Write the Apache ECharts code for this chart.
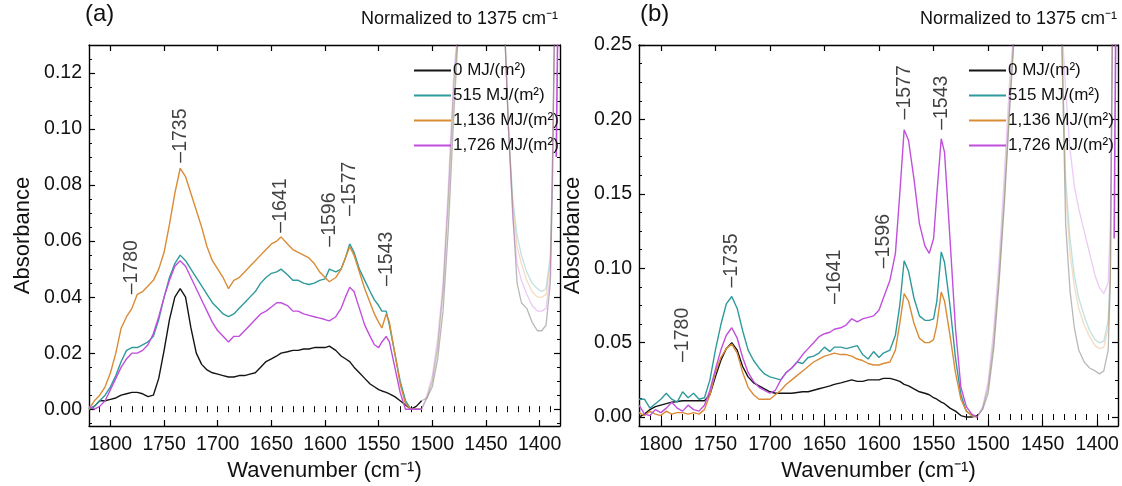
<!DOCTYPE html>
<html>
<head>
<meta charset="utf-8">
<script src="https://cdn.jsdelivr.net/npm/echarts@6/dist/echarts.min.js"></script>
<style>
  html, body { margin: 0; padding: 0; background: #fff; }
  #chart { width: 1122px; height: 486px; }
</style>
</head>
<body>
<div id="chart"></div>
<script>
// legend names and colours
const seriesNames = ['0 MJ/(m\u00b2)', '515 MJ/(m\u00b2)', '1,136 MJ/(m\u00b2)', '1,726 MJ/(m\u00b2)'];
const lineColors = ['#141414', '#2f9a9c', '#da8b35', '#c04fdc'];

// tick labels
const xMajorTicks = [1800, 1750, 1700, 1650, 1600, 1550, 1500, 1450, 1400];
const yTicksA = [0, 0.02, 0.04, 0.06, 0.08, 0.10, 0.12];
const yTicksB = [0, 0.05, 0.10, 0.15, 0.20, 0.25];

// wavenumbers of the solid part of the spectra (cm-1)
const waveMain = [1820, 1815, 1810, 1805, 1800, 1795, 1790, 1785, 1780, 1775,
  1770, 1765, 1760, 1755, 1750, 1745, 1740, 1735, 1730, 1725,
  1720, 1715, 1710, 1705, 1700, 1695, 1690, 1685, 1680, 1675,
  1670, 1665, 1660, 1655, 1650, 1645, 1641, 1635, 1630, 1625,
  1620, 1615, 1610, 1605, 1600, 1596, 1590, 1585, 1581, 1577,
  1573, 1568, 1563, 1558, 1554, 1550, 1547, 1543, 1540, 1535,
  1530, 1525, 1520, 1515, 1510];

// panel (a)
const a0 = [0.000, 0.001, 0.003, 0.003, 0.0035, 0.004, 0.005, 0.0055, 0.006, 0.006,
  0.0055, 0.0045, 0.005, 0.011, 0.021, 0.032, 0.040, 0.043, 0.040, 0.029,
  0.020, 0.016, 0.014, 0.013, 0.0125, 0.012, 0.0115, 0.0115, 0.012, 0.012,
  0.0125, 0.013, 0.015, 0.017, 0.018, 0.019, 0.020, 0.0205, 0.021, 0.021,
  0.0215, 0.0215, 0.022, 0.022, 0.022, 0.0225, 0.021, 0.019, 0.018, 0.017,
  0.015, 0.013, 0.011, 0.009, 0.008, 0.007, 0.0065, 0.006, 0.0055, 0.0045,
  0.003, 0.0015, 0.000, 0.001, 0.003];
const a515 = [0.000, 0.001, 0.003, 0.005, 0.008, 0.012, 0.017, 0.021, 0.022, 0.022,
  0.023, 0.024, 0.026, 0.032, 0.040, 0.047, 0.052, 0.055, 0.053, 0.050,
  0.047, 0.044, 0.041, 0.038, 0.036, 0.034, 0.033, 0.034, 0.036, 0.038,
  0.040, 0.042, 0.045, 0.047, 0.0485, 0.049, 0.050, 0.048, 0.046, 0.046,
  0.045, 0.0445, 0.045, 0.046, 0.0465, 0.050, 0.049, 0.050, 0.054, 0.059,
  0.056, 0.050, 0.046, 0.042, 0.039, 0.037, 0.035, 0.035, 0.030, 0.020,
  0.010, 0.003, 0.000, 0.000, 0.000];
const a1136 = [0.000, 0.003, 0.005, 0.008, 0.013, 0.020, 0.029, 0.033, 0.036, 0.041,
  0.042, 0.044, 0.046, 0.050, 0.056, 0.066, 0.077, 0.086, 0.083, 0.077,
  0.071, 0.065, 0.058, 0.053, 0.050, 0.047, 0.043, 0.046, 0.047, 0.049,
  0.051, 0.053, 0.055, 0.057, 0.059, 0.060, 0.0615, 0.059, 0.057, 0.056,
  0.055, 0.054, 0.052, 0.049, 0.047, 0.0455, 0.047, 0.050, 0.054, 0.058,
  0.055, 0.049, 0.043, 0.038, 0.034, 0.031, 0.029, 0.034, 0.031, 0.020,
  0.009, 0.002, 0.000, 0.000, 0.000];
const a1726 = [0.001, 0.000, 0.001, 0.003, 0.007, 0.011, 0.015, 0.018, 0.020, 0.020,
  0.021, 0.023, 0.027, 0.033, 0.040, 0.046, 0.051, 0.053, 0.051, 0.047,
  0.043, 0.039, 0.035, 0.031, 0.028, 0.026, 0.024, 0.026, 0.026, 0.028,
  0.030, 0.032, 0.034, 0.035, 0.0365, 0.038, 0.038, 0.037, 0.035, 0.035,
  0.034, 0.0335, 0.033, 0.0325, 0.032, 0.0315, 0.033, 0.036, 0.040, 0.0435,
  0.042, 0.036, 0.030, 0.026, 0.023, 0.022, 0.024, 0.026, 0.024, 0.015,
  0.006, 0.000, 0.000, 0.000, 0.000];

// panel (b)
const b0 = [0.000, 0.002, 0.005, 0.007, 0.008, 0.009, 0.010, 0.0105, 0.011, 0.011,
  0.011, 0.011, 0.011, 0.015, 0.027, 0.038, 0.046, 0.050, 0.045, 0.034,
  0.027, 0.023, 0.021, 0.019, 0.017, 0.016, 0.016, 0.016, 0.016, 0.0165,
  0.017, 0.017, 0.018, 0.019, 0.020, 0.021, 0.022, 0.023, 0.024, 0.025,
  0.024, 0.024, 0.025, 0.025, 0.025, 0.026, 0.026, 0.025, 0.024, 0.022,
  0.021, 0.019, 0.017, 0.016, 0.015, 0.013, 0.012, 0.010, 0.009, 0.006,
  0.004, 0.001, 0.000, 0.000, 0.001];
const b515 = [0.012, 0.012, 0.006, 0.009, 0.012, 0.016, 0.012, 0.010, 0.017, 0.013,
  0.016, 0.012, 0.013, 0.025, 0.045, 0.062, 0.076, 0.081, 0.073, 0.058,
  0.045, 0.038, 0.033, 0.029, 0.027, 0.026, 0.025, 0.030, 0.033, 0.037,
  0.036, 0.040, 0.041, 0.043, 0.047, 0.044, 0.047, 0.047, 0.046, 0.047,
  0.048, 0.042, 0.039, 0.044, 0.040, 0.043, 0.045, 0.055, 0.075, 0.105,
  0.098, 0.080, 0.068, 0.065, 0.065, 0.066, 0.078, 0.111, 0.104, 0.075,
  0.040, 0.015, 0.004, 0.001, 0.000];
const b1136 = [0.003, 0.001, 0.004, 0.002, 0.001, 0.004, 0.002, 0.003, 0.003, 0.002,
  0.003, 0.002, 0.005, 0.015, 0.030, 0.040, 0.046, 0.049, 0.043, 0.030,
  0.020, 0.015, 0.012, 0.012, 0.012, 0.015, 0.018, 0.022, 0.025, 0.028,
  0.031, 0.034, 0.037, 0.039, 0.041, 0.042, 0.043, 0.042, 0.042, 0.041,
  0.039, 0.038, 0.036, 0.035, 0.035, 0.036, 0.037, 0.045, 0.063, 0.083,
  0.078, 0.063, 0.053, 0.050, 0.050, 0.052, 0.062, 0.084, 0.078, 0.055,
  0.030, 0.012, 0.004, 0.001, 0.000];
const b1726 = [0.008, 0.002, 0.001, 0.005, 0.003, 0.006, 0.010, 0.006, 0.004, 0.008,
  0.005, 0.004, 0.008, 0.018, 0.032, 0.045, 0.055, 0.060, 0.053, 0.040,
  0.030, 0.024, 0.020, 0.018, 0.016, 0.018, 0.025, 0.030, 0.033, 0.037,
  0.042, 0.046, 0.050, 0.054, 0.056, 0.057, 0.059, 0.060, 0.062, 0.066,
  0.064, 0.066, 0.067, 0.068, 0.072, 0.080, 0.092, 0.110, 0.150, 0.193,
  0.186, 0.160, 0.130, 0.115, 0.110, 0.120, 0.150, 0.187, 0.178, 0.120,
  0.060, 0.020, 0.007, 0.002, 0.000];

// faded part beyond 1510 cm-1 (goes off the top of the frame)
const waveFade = [1510, 1505, 1500, 1495, 1490, 1485, 1480, 1475, 1440, 1433,
  1429, 1425, 1421, 1417, 1412, 1407, 1402, 1398, 1394, 1390, 1388, 1386];
const fa0 = [0.003, 0.004, 0.008, 0.018, 0.035, 0.065, 0.105, 0.14, 0.3, 0.14,
  0.10, 0.07, 0.045, 0.038, 0.036, 0.031, 0.028, 0.028, 0.030, 0.045, 0.08, 0.14];
const fa515 = [0.000, 0.004, 0.010, 0.022, 0.042, 0.075, 0.115, 0.14, 0.3, 0.14,
  0.10, 0.075, 0.062, 0.055, 0.049, 0.045, 0.043, 0.042, 0.043, 0.055, 0.09, 0.14];
const fa1136 = [0.000, 0.004, 0.010, 0.022, 0.042, 0.075, 0.115, 0.14, 0.3, 0.14,
  0.10, 0.072, 0.058, 0.052, 0.046, 0.042, 0.040, 0.040, 0.041, 0.052, 0.088, 0.14];
const fa1726 = [0.000, 0.005, 0.012, 0.025, 0.045, 0.080, 0.120, 0.14, 0.3, 0.14,
  0.10, 0.068, 0.052, 0.046, 0.041, 0.037, 0.035, 0.035, 0.036, 0.048, 0.085, 0.14];
const fb0 = [0.001, 0.005, 0.016, 0.045, 0.090, 0.145, 0.210, 0.27, 0.5, 0.27,
  0.13, 0.085, 0.060, 0.045, 0.037, 0.033, 0.031, 0.029, 0.031, 0.045, 0.09, 0.27];
const fb515 = [0.000, 0.006, 0.020, 0.050, 0.095, 0.150, 0.215, 0.27, 0.5, 0.27,
  0.16, 0.12, 0.095, 0.080, 0.068, 0.058, 0.052, 0.050, 0.051, 0.065, 0.10, 0.27];
const fb1136 = [0.000, 0.006, 0.020, 0.050, 0.095, 0.150, 0.215, 0.27, 0.5, 0.27,
  0.15, 0.11, 0.088, 0.073, 0.062, 0.054, 0.048, 0.046, 0.047, 0.060, 0.095, 0.27];
const fb1726 = [0.000, 0.007, 0.024, 0.058, 0.105, 0.165, 0.230, 0.27, 0.5, 0.27,
  0.22, 0.18, 0.155, 0.140, 0.125, 0.110, 0.095, 0.087, 0.083, 0.090, 0.13, 0.27];

// solid magenta rise at the right edge
const waveEdge = [1384.5, 1383];
const edgeA = [0.09, 0.14];
const edgeB = [0.12, 0.27];

// peak annotations: wavenumber and level of the label foot
const peakWaves = [1780, 1735, 1641, 1596, 1577, 1543];
const peakLevelA = [0.041, 0.088, 0.063, 0.058, 0.069, 0.044];
const peakLevelB = [0.037, 0.087, 0.076, 0.100, 0.200, 0.193];

const FONT = 'Liberation Sans, Arial, sans-serif';
const X_MIN = 1381, X_MAX = 1820;

function pairs(xs, ys) {
  return xs.map(function (x, i) { return [x, ys[i]]; });
}

function stepValues(from, to, step) {
  const out = [];
  for (let v = from; v <= to + step / 1000; v += step) out.push(Math.round(v * 10000) / 10000);
  return out;
}

const xMinorTicks = stepValues(1390, 1820, 10);

function xAxesFor(grid) {
  const base = {
    type: 'value', gridIndex: grid, min: X_MIN, max: X_MAX, inverse: true,
    splitLine: { show: false },
    axisLine: { show: true, onZero: false, lineStyle: { color: '#000', width: 1.4 } }
  };
  return [
    Object.assign({}, base, {
      position: 'bottom',
      name: 'Wavenumber (cm\u207b\u00b9)', nameLocation: 'middle', nameGap: 33,
      nameTextStyle: { fontSize: 22, fontFamily: FONT, color: '#111' },
      axisTick: { inside: true, length: 6, customValues: xMajorTicks, lineStyle: { color: '#000', width: 1.2 } },
      axisLabel: {
        customValues: xMajorTicks, fontSize: 19.5, fontFamily: FONT, color: '#111', margin: 9,
        formatter: function (v) { return String(v); }
      }
    }),
    Object.assign({}, base, {
      position: 'bottom', axisLine: { show: false },
      axisTick: { inside: true, length: 3, customValues: xMinorTicks, lineStyle: { color: '#000', width: 1 } },
      axisLabel: { show: false }
    }),
    Object.assign({}, base, {
      position: 'top',
      axisTick: { inside: true, length: 6, customValues: xMajorTicks, lineStyle: { color: '#000', width: 1.2 } },
      axisLabel: { show: false }
    }),
    Object.assign({}, base, {
      position: 'top', axisLine: { show: false },
      axisTick: { inside: true, length: 3, customValues: xMinorTicks, lineStyle: { color: '#000', width: 1 } },
      axisLabel: { show: false }
    })
  ];
}

function yAxesFor(grid, min, max, major, minor) {
  const base = {
    type: 'value', gridIndex: grid, min: min, max: max,
    splitLine: { show: false },
    axisLine: { show: true, onZero: false, lineStyle: { color: '#000', width: 1.4 } }
  };
  return [
    Object.assign({}, base, {
      position: 'left',
      name: 'Absorbance', nameLocation: 'middle', nameGap: 55,
      nameTextStyle: { fontSize: 22, fontFamily: FONT, color: '#111' },
      axisTick: { inside: true, length: 6, customValues: major, lineStyle: { color: '#000', width: 1.2 } },
      axisLabel: {
        customValues: major, fontSize: 19.5, fontFamily: FONT, color: '#111', margin: 7,
        formatter: function (v) { return v.toFixed(2); }
      }
    }),
    Object.assign({}, base, {
      position: 'left', axisLine: { show: false },
      axisTick: { inside: true, length: 3, customValues: minor, lineStyle: { color: '#000', width: 1 } },
      axisLabel: { show: false }
    }),
    Object.assign({}, base, {
      position: 'right',
      axisTick: { inside: true, length: 6, customValues: major, lineStyle: { color: '#000', width: 1.2 } },
      axisLabel: { show: false }
    }),
    Object.assign({}, base, {
      position: 'right', axisLine: { show: false },
      axisTick: { inside: true, length: 3, customValues: minor, lineStyle: { color: '#000', width: 1 } },
      axisLabel: { show: false }
    })
  ];
}

function panelSeries(axis, main, faded, edge, peakLevels) {
  const out = [];
  main.forEach(function (vals, i) {
    out.push({
      name: seriesNames[i], type: 'line', xAxisIndex: axis, yAxisIndex: axis,
      data: pairs(waveMain, vals), symbol: 'none', silent: true,
      lineStyle: { color: lineColors[i], width: 1.4 }, itemStyle: { color: lineColors[i] }
    });
  });
  faded.forEach(function (vals, i) {
    out.push({
      name: 'faded-' + i, type: 'line', xAxisIndex: axis, yAxisIndex: axis,
      data: pairs(waveFade, vals), symbol: 'none', silent: true,
      lineStyle: { color: lineColors[i], width: 1.3, opacity: 0.3 }
    });
  });
  out.push({
    name: 'edge', type: 'line', xAxisIndex: axis, yAxisIndex: axis,
    data: pairs(waveEdge, edge), symbol: 'none', silent: true,
    lineStyle: { color: lineColors[3], width: 1.6 }
  });
  out.push({
    name: 'peaks', type: 'scatter', xAxisIndex: axis, yAxisIndex: axis, silent: true,
    symbolSize: 0,
    data: peakWaves.map(function (w, i) { return { name: String(w), value: [w, peakLevels[i]] }; }),
    label: {
      show: true, position: 'inside', rotate: 90, align: 'left', verticalAlign: 'middle',
      fontSize: 19.5, fontFamily: FONT, color: '#111',
      formatter: function (p) { return '\u2013' + p.name; }
    }
  });
  return out;
}

function legendAt(left) {
  return {
    data: seriesNames, orient: 'vertical', left: left, top: 57,
    icon: 'rect', itemWidth: 37, itemHeight: 2, itemGap: 8, selectedMode: false,
    textStyle: { fontSize: 17, fontFamily: FONT, color: '#111', padding: [0, 0, 0, -3] }
  };
}

const chart = echarts.init(document.getElementById('chart'), null, { renderer: 'canvas' });
chart.setOption({
  backgroundColor: '#fff',
  animation: false,
  grid: [
    { left: 89, top: 45, width: 471, height: 381, containLabel: false, outerBoundsMode: 'none' },
    { left: 639, top: 45, width: 479, height: 381, containLabel: false, outerBoundsMode: 'none' }
  ],
  xAxis: xAxesFor(0).concat(xAxesFor(1)),
  yAxis: yAxesFor(0, -0.006, 0.13, yTicksA, stepValues(-0.005, 0.13, 0.005))
    .concat(yAxesFor(1, -0.006, 0.25, yTicksB, stepValues(0, 0.25, 0.0125))),
  legend: [legendAt(409), legendAt(964)],
  graphic: [
    { type: 'text', left: 85, top: 2, style: { text: '(a)', font: '24px ' + FONT, fill: '#111' } },
    { type: 'text', right: 564, top: 10, style: { text: 'Normalized to 1375 cm\u207b\u00b9', font: '18px ' + FONT, fill: '#111' } },
    { type: 'text', left: 640, top: 2, style: { text: '(b)', font: '24px ' + FONT, fill: '#111' } },
    { type: 'text', right: 5, top: 10, style: { text: 'Normalized to 1375 cm\u207b\u00b9', font: '18px ' + FONT, fill: '#111' } }
  ],
  series: panelSeries(0, [a0, a515, a1136, a1726], [fa0, fa515, fa1136, fa1726], edgeA, peakLevelA)
    .concat(panelSeries(4, [b0, b515, b1136, b1726], [fb0, fb515, fb1136, fb1726], edgeB, peakLevelB))
});
</script>
</body>
</html>
